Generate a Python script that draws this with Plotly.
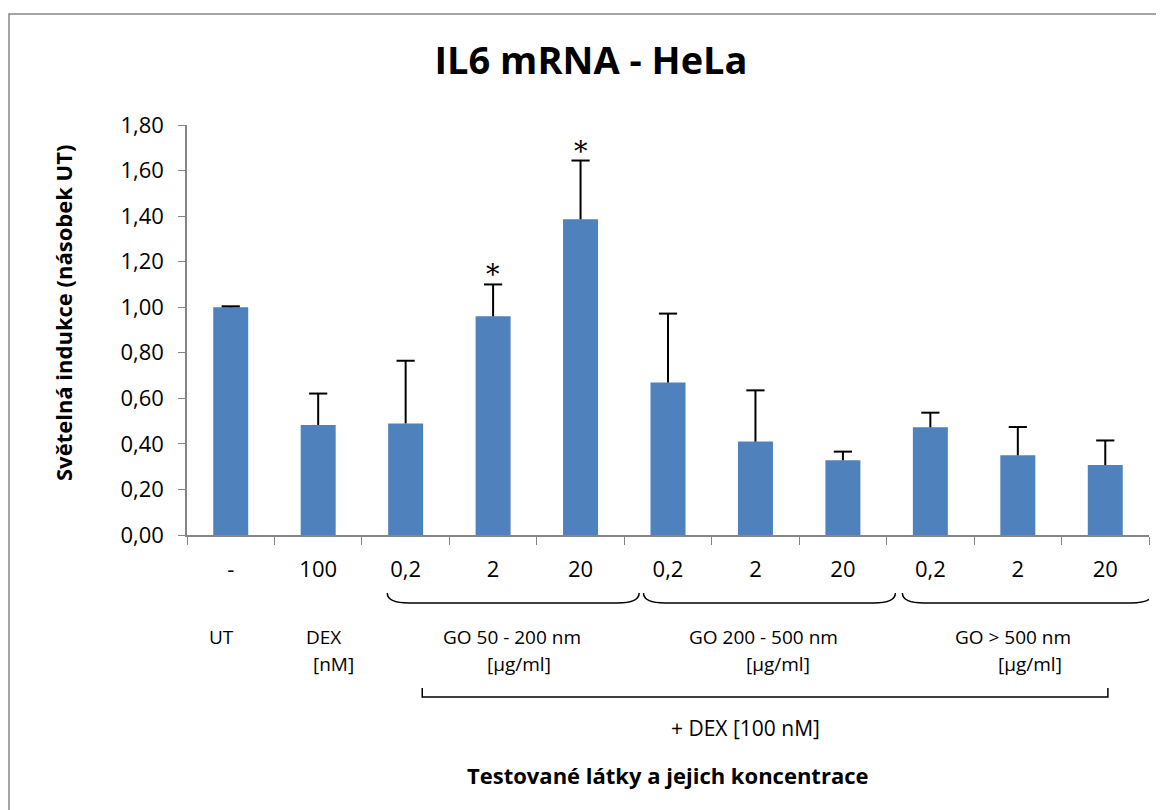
import plotly.graph_objects as go

# ---- data ----
tick_labels = ["-", "100", "0,2", "2", "20", "0,2", "2", "20", "0,2", "2", "20"]
values = [1.00, 0.483, 0.49, 0.96, 1.386, 0.67, 0.41, 0.328, 0.473, 0.35, 0.307]
err_plus = [0.004, 0.138, 0.275, 0.14, 0.258, 0.302, 0.225, 0.038, 0.064, 0.124, 0.108]
significant = [False, False, False, True, True, False, False, False, False, False, False]
group_names = ["UT", "DEX", "GO 50 - 200 nm", "GO 200 - 500 nm", "GO > 500 nm"]
group_units = ["", "[nM]", "[µg/ml]", "[µg/ml]", "[µg/ml]"]
dex_label = "+ DEX [100 nM]"
title_text = "IL6 mRNA - HeLa"
y_title = "Světelná indukce (násobek UT)"
x_title = "Testované látky a jejich koncentrace"

FONT = "Open Sans"
BLUE = "#4F81BD"
GREY = "#868686"

W, H = 1156, 802  # page body has an 8px margin

xs = list(range(len(values)))
tops = [v + e for v, e in zip(values, err_plus)]

fig = go.Figure()
fig.add_trace(go.Bar(
    x=xs, y=values, width=0.4, marker=dict(color=BLUE, line=dict(width=0)),
    error_y=dict(type="data", array=err_plus, arrayminus=[0] * len(values),
                 symmetric=False, color="black", thickness=2, width=0),
    showlegend=False, hoverinfo="y",
))
# error-bar caps
fig.add_trace(go.Scatter(
    x=xs, y=tops, mode="markers",
    marker=dict(symbol="line-ew", size=13, line=dict(color="black", width=2)),
    showlegend=False, hoverinfo="skip",
))
# invisible trace to carry the label axis
fig.add_trace(go.Scatter(x=xs, y=[0] * len(xs), xaxis="x2", mode="markers",
                         marker=dict(opacity=0), showlegend=False, hoverinfo="skip"))

fig.update_layout(
    width=W, height=H,
    margin=dict(l=179, r=15, t=117, b=275),
    paper_bgcolor="white", plot_bgcolor="white",
    separators=", ",
    font=dict(family=FONT, color="black"),
    title=dict(text="<b>%s</b>" % title_text, x=(591 - 8) / W, xref="container", xanchor="center",
               y=1 - (61 - 8) / H, yref="container", yanchor="middle",
               font=dict(family=FONT, size=38, color="black")),
    xaxis=dict(range=[-0.5, 10.5], tickmode="array",
               tickvals=[i - 0.5 for i in range(len(values) + 1)],
               showticklabels=False, ticks="outside", ticklen=8, tickcolor=GREY,
               showline=True, linecolor=GREY, linewidth=1.5, showgrid=False, zeroline=False,
               fixedrange=True),
    xaxis2=dict(range=[-0.5, 10.5], overlaying="x", anchor="y", side="bottom",
                tickmode="array", tickvals=xs, ticktext=tick_labels, ticks="",
                showline=False, showgrid=False, zeroline=False, ticklabelstandoff=19,
                tickfont=dict(family=FONT, size=22, color="black")),
    yaxis=dict(range=[0, 1.8], tickmode="array", tickvals=[i * 0.2 for i in range(10)],
               tickformat=".2f", ticks="outside", ticklen=7, tickcolor=GREY,
               showline=True, linecolor=GREY, linewidth=1.5, showgrid=False, zeroline=False,
               tickfont=dict(family=FONT, size=22, color="black"), ticklabelstandoff=10),
)

def py(p):
    return (535 - p) / 410.0

def px(p):
    return (p - 187) / 962.0

anns = []
# asterisks
for i, (t, s) in enumerate(zip(tops, significant)):
    if s:
        anns.append(dict(x=i, y=t, xref="x", yref="y", text="*", showarrow=False,
                         yanchor="bottom", yshift=-8,
                         font=dict(family="DejaVu Serif", size=27, color="black")))
# group labels
grp_x = [-0.111, 1.066, 3.214, 6.094, 8.94]
unit_x = [None, 1.18, 3.294, 6.254, 9.134]
for name, unit, gx, ux in zip(group_names, group_units, grp_x, unit_x):
    anns.append(dict(x=gx, y=py(637), xref="x", yref="paper", text=name, showarrow=False,
                     font=dict(size=19), yanchor="middle"))
    if unit:
        anns.append(dict(x=ux, y=py(664), xref="x", yref="paper", text=unit, showarrow=False,
                         font=dict(size=19), yanchor="middle"))
anns.append(dict(x=5.889, y=py(728), xref="x", yref="paper", text=dex_label, showarrow=False,
                 font=dict(size=21), yanchor="middle"))
anns.append(dict(x=0.5, y=py(775), xref="paper", yref="paper",
                 text="<b>%s</b>" % x_title, showarrow=False, font=dict(size=22), yanchor="middle"))
anns.append(dict(x=px(63), y=py(313), xref="paper", yref="paper",
                 text="<b>%s</b>" % y_title, showarrow=False, textangle=-90,
                 font=dict(size=22), xanchor="center", yanchor="middle"))
fig.update_layout(annotations=anns)

shapes = []
# outer frame (left edge as close to the page edge as the figure allows)
shapes.append(dict(type="rect", xref="paper", yref="paper", x0=px(9), x1=1.05,
                   y0=-0.8, y1=py(14), line=dict(color="#888888", width=1.5),
                   fillcolor="rgba(0,0,0,0)", layer="below"))
# braces
yt, yb = py(593), py(603)
for x0, x1 in [(1.79, 4.67), (4.72, 7.60), (7.68, 10.54)]:
    d = 0.25
    path = ("M %f,%f Q %f,%f %f,%f L %f,%f Q %f,%f %f,%f" %
            (x0, yt, x0, yb, x0 + d, yb, x1 - d, yb, x1, yb, x1, yt))
    shapes.append(dict(type="path", xref="x", yref="paper", path=path,
                       line=dict(color="black", width=1.5)))
# big bracket
b0, b1 = py(688), py(697)
shapes.append(dict(type="path", xref="x", yref="paper",
                   path="M 2.19,%f L 2.19,%f L 10.03,%f L 10.03,%f" % (b0, b1, b1, b0),
                   line=dict(color="black", width=1.5)))
fig.update_layout(shapes=shapes)

fig.write_html("out.html")
